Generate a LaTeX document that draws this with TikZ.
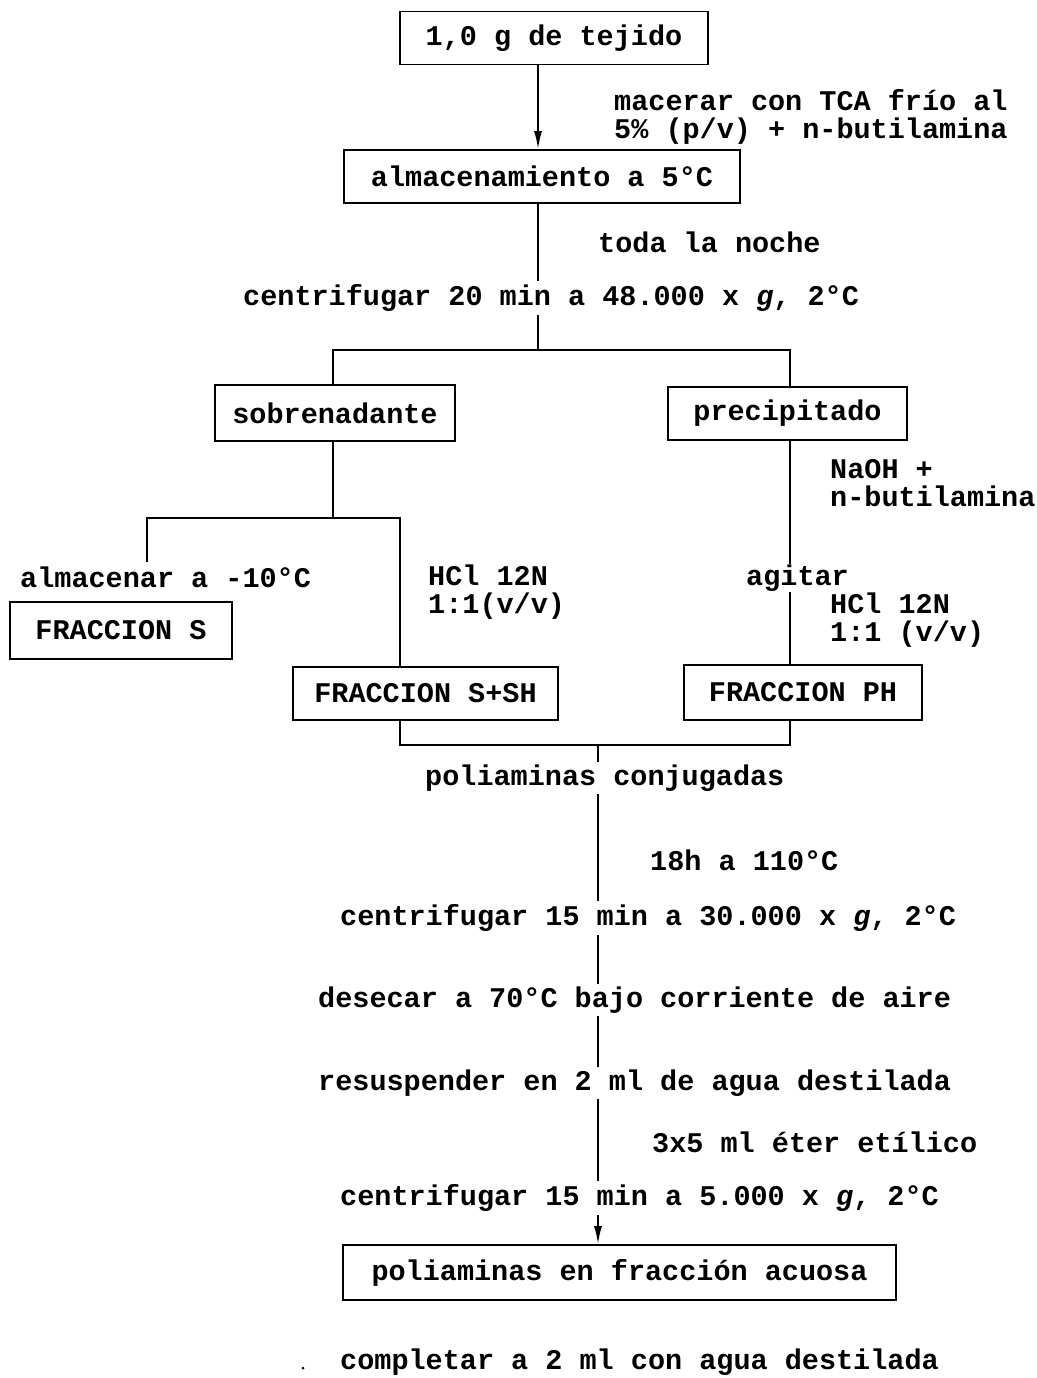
\documentclass[tikz,border=0pt]{standalone}
\usepackage{fontspec}
\setmainfont{Liberation Mono}
\setmonofont{Liberation Mono}
\usetikzlibrary{arrows.meta,backgrounds}
\begin{document}
\begin{tikzpicture}[x=1pt,y=-1pt,
  every node/.style={font=\fontsize{28.5}{28}\selectfont\bfseries},
  box/.style={draw,line width=1.8pt,minimum height=53pt,inner sep=0pt,fill=white},
  lbl/.style={anchor=west,inner sep=3pt,fill=white,align=left},
  conn/.style={line width=1.8pt},
  arr/.style={conn,-{Latex[length=18pt,width=8pt]}}]
\useasboundingbox (0,0) rectangle (1036,1378);

% boxes
\node[box,minimum width=308pt] (b1) at (554,38) {1,0 g de tejido};
\node[box,minimum width=396pt] (b2) at (542,176.5) {almacenamiento a 5°C};
\node[box,minimum width=240pt,minimum height=56pt] (sob) at (335,413) {sobrenadante};
\node[box,minimum width=239pt] (pre) at (787.5,413.5) {precipitado};
\node[box,minimum width=222pt,minimum height=57pt] (fs) at (121,630.5) {FRACCION S};
\node[box,minimum width=265pt] (fssh) at (425.5,693.5) {FRACCION S+SH};
\node[box,minimum width=238pt,minimum height=55pt] (fph) at (803,692.5) {FRACCION PH};
\node[box,minimum width=553pt,minimum height=55pt] (fin) at (619.5,1272.5) {poliaminas en fracción acuosa};

% labels
\node[lbl] (l1) at (611,116.5) {macerar con TCA frío al\\5\% (p/v) + n-butilamina};
\node[lbl] (l2) at (595,242) {toda la noche};
\node[lbl] (l3) at (240,298) {centrifugar 20 min a 48.000 x \textit{g}, 2°C};
\node[lbl] (l4) at (17,577) {almacenar a -10°C};
\node[lbl] (l5) at (425,592.5) {HCl 12N\\1:1(v/v)};
\node[lbl] (l6) at (827,483.5) {NaOH +\\n-butilamina};
\node[lbl,inner sep=1pt] (l7) at (745,578) {agitar};
\node[lbl] (l8) at (827,620.5) {HCl 12N\\1:1 (v/v)};
\node[lbl] (l9) at (422,778) {poliaminas conjugadas};
\node[lbl] (l10) at (647,860) {18h a 110°C};
\node[lbl] (l11) at (337,918) {centrifugar 15 min a 30.000 x \textit{g}, 2°C};
\node[lbl] (l12) at (315,1000) {desecar a 70°C bajo corriente de aire};
\node[lbl] (l13) at (315,1083) {resuspender en 2 ml de agua destilada};
\node[lbl] (l14) at (649,1142) {3x5 ml éter etílico};
\node[lbl] (l15) at (337,1198) {centrifugar 15 min a 5.000 x \textit{g}, 2°C};
\node[lbl] (l16) at (337,1362) {completar a 2 ml con agua destilada};
\node[circle,fill,inner sep=0pt,minimum size=3pt] (dot) at (303,1368) {};

% junction coordinates
\coordinate (c1) at (538,64);
\coordinate (s1) at (538,350);
\coordinate (s1l) at (333,350);
\coordinate (s1r) at (790,350);
\coordinate (s2) at (333,518);
\coordinate (s2l) at (147,518);
\coordinate (s2r) at (400,518);
\coordinate (s2e) at (147,562);
\coordinate (j1) at (400,745);
\coordinate (j2) at (790,745);
\coordinate (jm) at (598,745);

\begin{pgfonlayer}{background}
\draw[arr] (b1.south -| c1) -- (b2.north -| c1);
\draw[conn] (b2.south -| s1) -- (s1);
\draw[conn] (sob.north -| s1l) |- (s1r) -- (pre.north -| s1r);
\draw[conn] (sob.south -| s2) -- (s2);
\draw[conn] (s2e) |- (s2r) -- (fssh.north -| s2r);
\draw[conn] (pre.south -| s1r) -- (fph.north -| s1r);
\draw[conn] (fssh.south -| j1) |- (j2) -- (fph.south -| j2);
\draw[arr] (jm) -- (fin.north -| jm);
\end{pgfonlayer}
\end{tikzpicture}
\end{document}
